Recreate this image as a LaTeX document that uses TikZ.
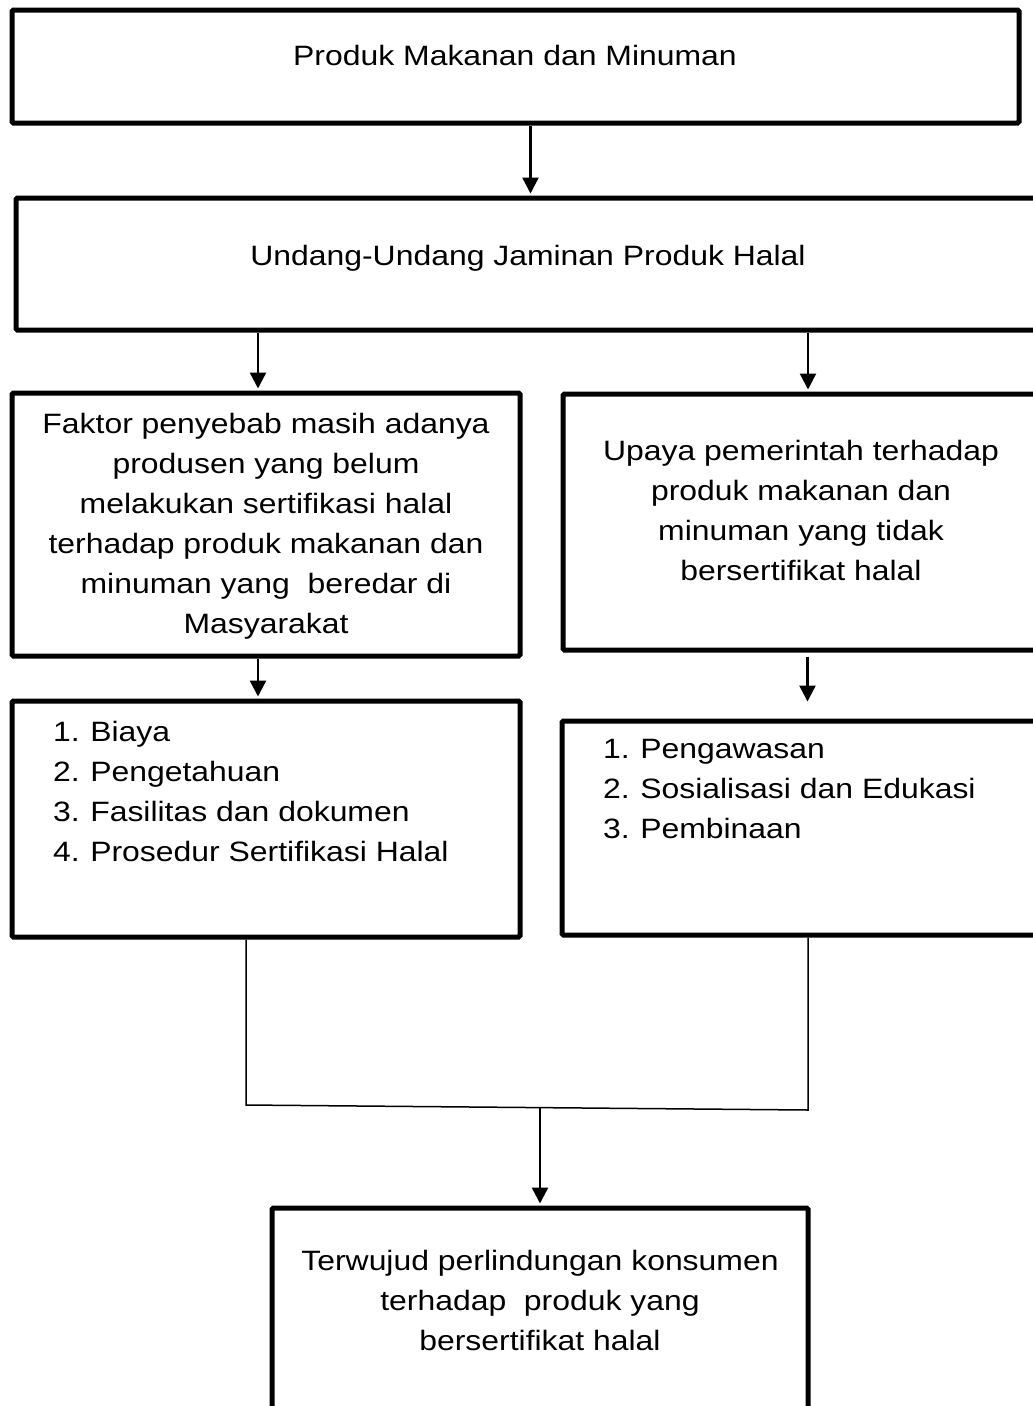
\documentclass[tikz,border=0pt]{standalone}
\usepackage{fontspec}
\setmainfont{Liberation Sans}
\usetikzlibrary{arrows.meta}

\newcommand{\itemno}[1]{\makebox[32.5pt][l]{#1}}

\begin{document}
\begin{tikzpicture}[x=1pt,y=-1pt,
    box/.style={draw, line width=5pt, rounded corners=1.5pt, inner sep=0pt},
    txt/.style={inner sep=0pt, xscale=1.14, font=\fontsize{28}{40}\selectfont},
    arr/.style={line width=2.4pt, -{Triangle[length=16pt,width=16pt]}, shorten >=2pt},
    link/.style={line width=1.5pt}]

\useasboundingbox (0,0) rectangle (1033,1406);
\clip (0,0) rectangle (1033,1406);

% boxes
\node[box, minimum width=1007, minimum height=113] (box_0) at (515.5, 66.5) {};
\node[box, minimum width=1029, minimum height=132] (box_1) at (530.5,264.0) {};
\node[box, minimum width=508,  minimum height=263] (box_2) at (266.0,524.5) {};
\node[box, minimum width=482,  minimum height=256] (box_3) at (804.0,522.0) {};
\node[box, minimum width=508,  minimum height=236] (box_4) at (266.0,819.0) {};
\node[box, minimum width=483,  minimum height=214] (box_5) at (803.5,828.0) {};
\node[box, minimum width=536,  minimum height=252] (box_6) at (540.0,1334.0) {};

% texts
\node[txt] (text_0) at (515,55)  {Produk Makanan dan Minuman};
\node[txt] (text_1) at (528,258) {Undang-Undang Jaminan Produk Halal};
\node[txt, align=center] (text_2) at (266,526) {Faktor penyebab masih adanya\\ produsen yang belum\\ melakukan sertifikasi halal\\ terhadap produk makanan dan\\ minuman yang\ \ beredar di\\ Masyarakat};
\node[txt, align=center] (text_3) at (801,510) {Upaya pemerintah terhadap\\ produk makanan dan\\ minuman yang tidak\\ bersertifikat halal};
\node[txt, align=left, anchor=west] (text_4) at (53,791) {\itemno{1.}Biaya\\ \itemno{2.}Pengetahuan\\ \itemno{3.}Fasilitas dan dokumen\\ \itemno{4.}Prosedur Sertifikasi Halal};
\node[txt, align=left, anchor=west] (text_5) at (603,789) {\itemno{1.}Pengawasan\\ \itemno{2.}Sosialisasi dan Edukasi\\ \itemno{3.}Pembinaan};
\node[txt, align=center] (text_6) at (540,1300) {Terwujud perlindungan konsumen\\ terhadap\ \ produk yang\\ bersertifikat halal};

% arrows
\draw[arr] (box_0.south -| box_1.north) -- (box_1.north);
\draw[arr] ([xshift=-8pt]box_2.north |- box_1.south) -- ([xshift=-8pt]box_2.north);
\draw[arr] ([xshift=4pt]box_3.north |- box_1.south) -- ([xshift=4pt]box_3.north);
\draw[arr] ([xshift=-8pt]box_4.north |- box_2.south) -- ([xshift=-8pt]box_4.north);
\draw[arr, shorten <=4pt, shorten >=17pt] ([xshift=4pt]box_5.north |- box_3.south) -- ([xshift=4pt]box_5.north);

% joining lines
\coordinate (join_l) at (246,1105);
\coordinate (join_r) at (808,1110);
\coordinate (join_m) at (540,1107.5);
\draw[link] (box_4.south -| join_l) -- (join_l) -- (join_r) -- (box_5.south -| join_r);
\draw[arr] (join_m) -- (box_6.north);

\end{tikzpicture}
\end{document}
